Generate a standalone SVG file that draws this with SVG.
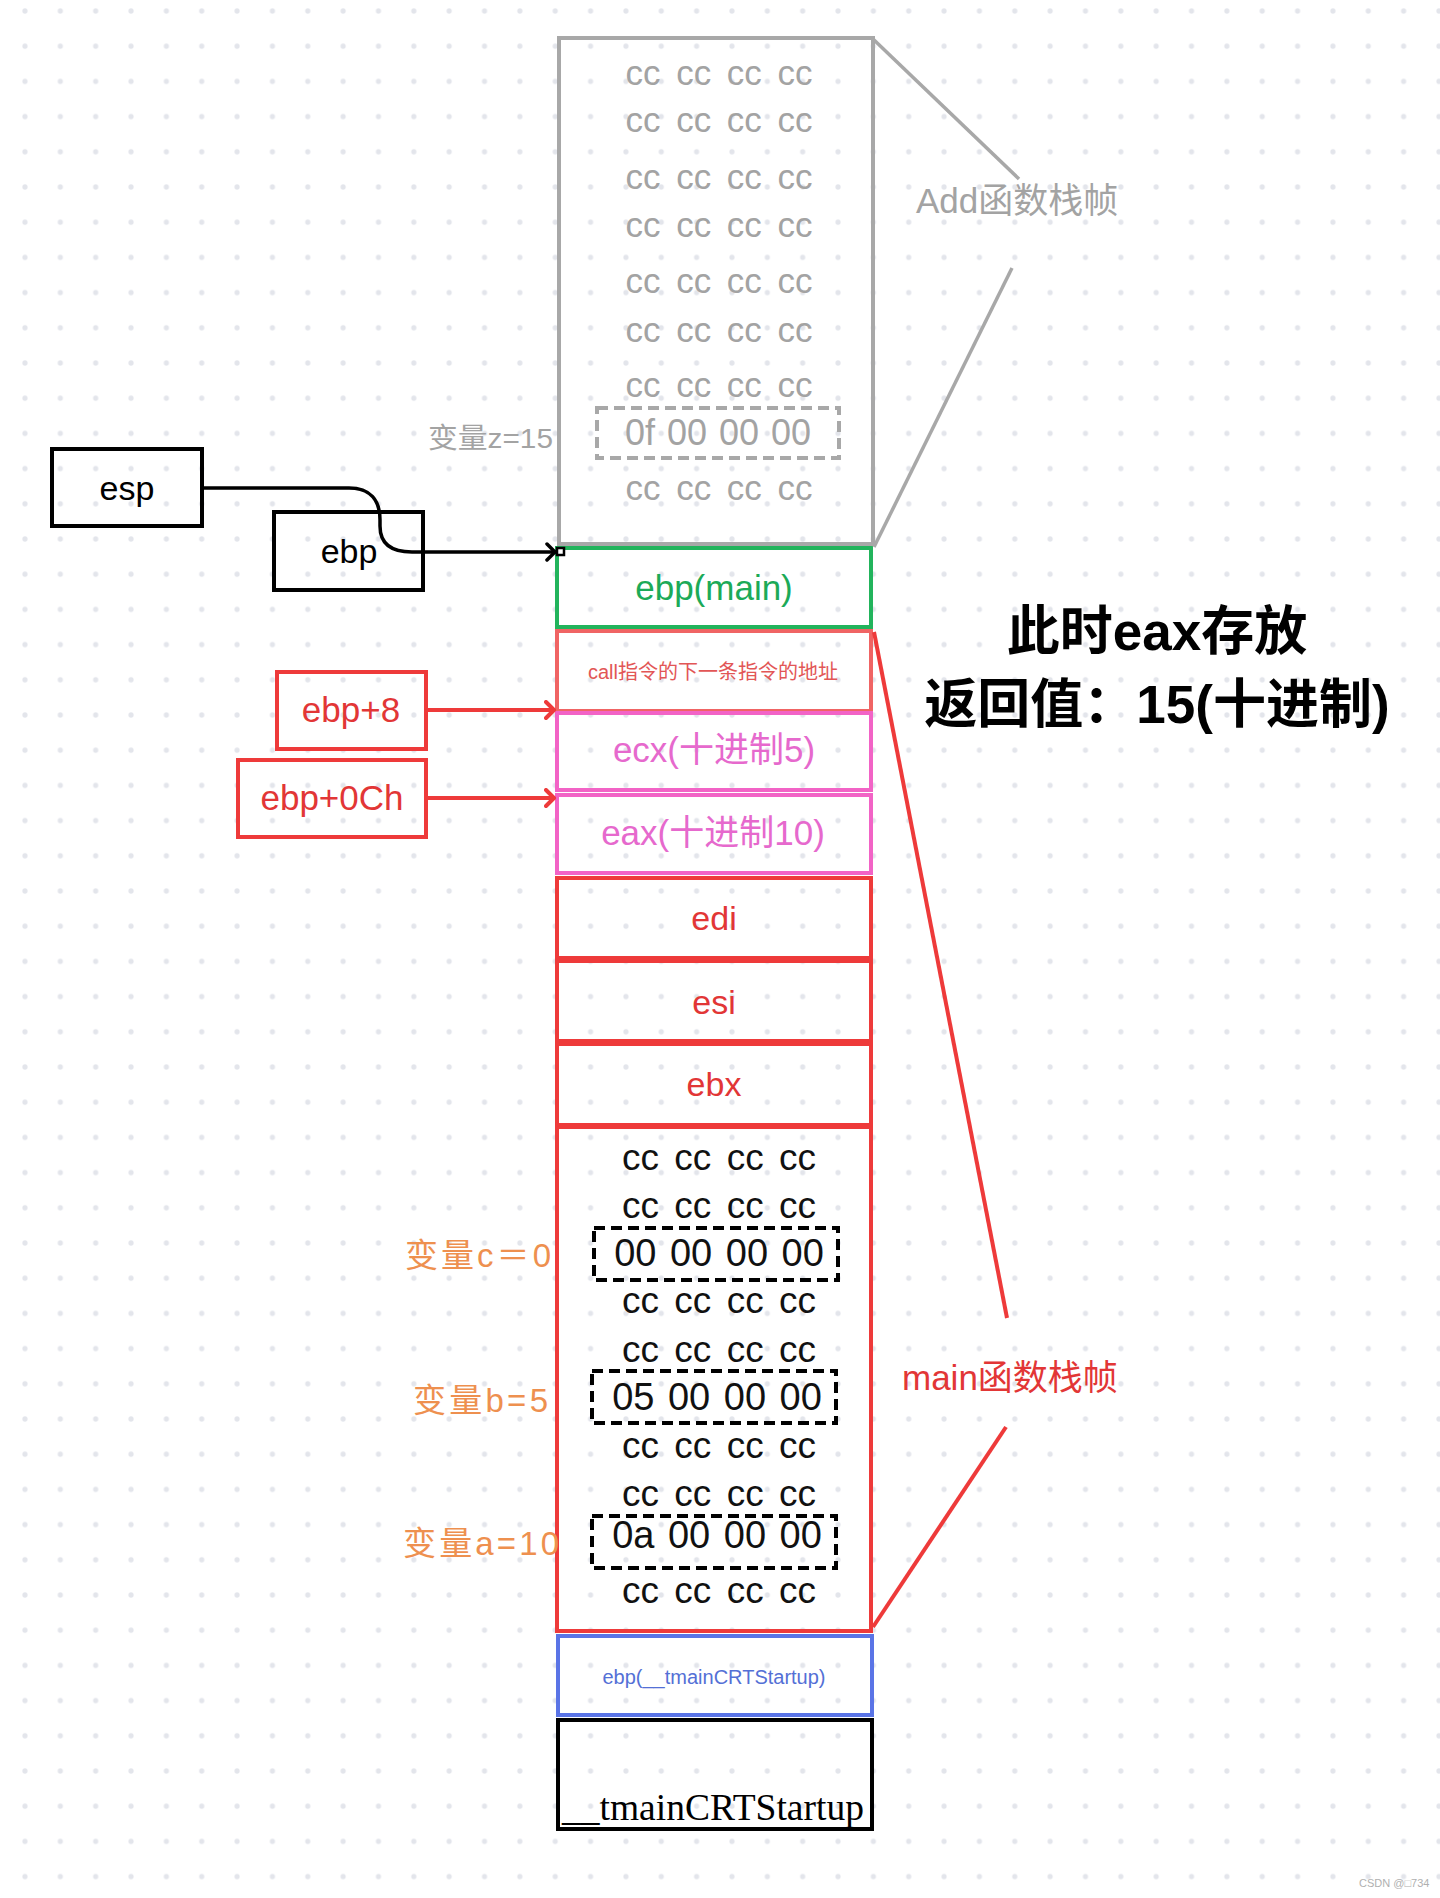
<svg xmlns="http://www.w3.org/2000/svg" width="1440" height="1898" viewBox="0 0 1440 1898">
<style>
  text { font-family: "Liberation Sans", "Noto Sans CJK SC", sans-serif; }
  text.serif { font-family: "Liberation Serif", "Noto Serif CJK SC", serif; }
  .box { fill: none; stroke-width: 4; }
  .gray { stroke: #a8a8a8; }
  .gtxt { fill: #a3a3a3; font-size: 35px; word-spacing: 6px; }
  .btxt { fill: #111; font-size: 37px; word-spacing: 5px; }
  .num { fill: #111; font-size: 38px; word-spacing: 3px; }
  .mid { text-anchor: middle; }
  .dash { fill: none; stroke-width: 4; stroke-dasharray: 11 6; }
  .red { stroke: #ee3a3a; }
  .redt { fill: #e23636; }
  .pink { stroke: #f263c6; }
  .pinkt { fill: #e669cd; }
  .orange { fill: #ee904f; font-size: 33px; }
  .big { fill: #000; font-size: 53px; font-weight: bold; }
</style>
<defs>
  <pattern id="dots" patternUnits="userSpaceOnUse" x="7.3" y="-6.6" width="35.35" height="35.2">
    <circle cx="17.675" cy="17.6" r="2.6" fill="#e3e5eb"/>
  </pattern>
  <marker id="arrBlack" markerUnits="userSpaceOnUse" markerWidth="14" markerHeight="22" refX="11" refY="10" orient="auto">
    <path d="M2,2 L10,10 L2,18" fill="none" stroke="#000" stroke-width="3.5" stroke-linecap="round" stroke-linejoin="round"/>
  </marker>
  <marker id="arrRed" markerUnits="userSpaceOnUse" markerWidth="14" markerHeight="22" refX="11" refY="10" orient="auto">
    <path d="M2,2 L10,10 L2,18" fill="none" stroke="#ee3a3a" stroke-width="4" stroke-linecap="round" stroke-linejoin="round"/>
  </marker>
</defs>

<rect x="0" y="0" width="1440" height="1898" fill="#fff"/>
<rect x="0" y="0" width="1440" height="1898" fill="url(#dots)"/>

<!-- Add stack frame -->
<g id="add-frame">
  <rect class="box gray" x="559" y="38" width="314" height="506"/>
  <text class="gtxt mid" x="719" y="85">cc cc cc cc</text>
  <text class="gtxt mid" x="719" y="132">cc cc cc cc</text>
  <text class="gtxt mid" x="719" y="189">cc cc cc cc</text>
  <text class="gtxt mid" x="719" y="237">cc cc cc cc</text>
  <text class="gtxt mid" x="719" y="293">cc cc cc cc</text>
  <text class="gtxt mid" x="719" y="342">cc cc cc cc</text>
  <text class="gtxt mid" x="719" y="397">cc cc cc cc</text>
  <text class="gtxt mid" x="719" y="500">cc cc cc cc</text>
</g>
<g id="var-z">
  <rect class="dash gray" x="597" y="408" width="242" height="50"/>
  <text class="mid" x="718" y="445" fill="#a3a3a3" font-size="36" style="word-spacing:2px">0f 00 00 00</text>
  <text x="553" y="448" text-anchor="end" fill="#a3a3a3" font-size="28" textLength="125" lengthAdjust="spacingAndGlyphs">变量z=15</text>
</g>
<g id="add-label">
  <text x="916" y="213" fill="#a3a3a3" font-size="35">Add函数栈帧</text>
</g>

<!-- pointers -->
<g id="esp">
  <rect class="box" stroke="#000" x="52" y="449" width="150" height="77"/>
  <text class="mid" x="127" y="500" font-size="34" fill="#000">esp</text>
</g>
<g id="ebp">
  <rect class="box" stroke="#000" x="274" y="512" width="149" height="78"/>
  <text class="mid" x="349" y="563" font-size="34" fill="#000">ebp</text>
</g>
<g id="ebp8">
  <rect class="box red" x="277" y="672" width="149" height="77"/>
  <text class="mid redt" x="351" y="722" font-size="35">ebp+8</text>
</g>
<g id="ebp0ch">
  <rect class="box red" x="238" y="760" width="188" height="77"/>
  <text class="mid redt" x="332" y="810" font-size="35">ebp+0Ch</text>
</g>

<!-- main stack frame -->
<g id="ebp-main">
  <rect class="box" stroke="#22b45c" x="557" y="548" width="314" height="79"/>
  <text class="mid" x="714" y="600" font-size="35" fill="#1caa58">ebp(main)</text>
</g>
<g id="ret-addr">
  <rect class="box" stroke="#f06464" x="557" y="631" width="314" height="80"/>
  <text class="mid" x="713" y="679" font-size="20" fill="#e25656">call指令的下一条指令的地址</text>
</g>
<g id="ecx">
  <rect class="box pink" x="557" y="713" width="314" height="77"/>
  <text class="mid pinkt" x="714" y="762" font-size="35">ecx(十进制5)</text>
</g>
<g id="eax">
  <rect class="box pink" x="557" y="795" width="314" height="78"/>
  <text class="mid pinkt" x="713" y="845" font-size="35">eax(十进制10)</text>
</g>
<g id="edi">
  <rect class="box red" x="557" y="878" width="314" height="80"/>
  <text class="mid redt" x="714" y="930" font-size="34">edi</text>
</g>
<g id="esi">
  <rect class="box red" x="557" y="961" width="314" height="80"/>
  <text class="mid redt" x="714" y="1014" font-size="34">esi</text>
</g>
<g id="ebx">
  <rect class="box red" x="557" y="1044" width="314" height="81"/>
  <text class="mid redt" x="714" y="1096" font-size="34">ebx</text>
</g>
<g id="main-locals">
  <rect class="box red" x="557" y="1127" width="314" height="504"/>
  <text class="btxt mid" x="719" y="1170">cc cc cc cc</text>
  <text class="btxt mid" x="719" y="1218">cc cc cc cc</text>
  <text class="btxt mid" x="719" y="1313">cc cc cc cc</text>
  <text class="btxt mid" x="719" y="1362">cc cc cc cc</text>
  <text class="btxt mid" x="719" y="1458">cc cc cc cc</text>
  <text class="btxt mid" x="719" y="1506">cc cc cc cc</text>
  <text class="btxt mid" x="719" y="1603">cc cc cc cc</text>
</g>
<g id="var-c">
  <rect class="dash" stroke="#000" x="594" y="1228" width="244" height="52"/>
  <text class="num mid" x="719" y="1266">00 00 00 00</text>
  <text class="orange" x="551" y="1267" text-anchor="end" textLength="146" lengthAdjust="spacing">变量c＝0</text>
</g>
<g id="var-b">
  <rect class="dash" stroke="#000" x="592" y="1371" width="244" height="52"/>
  <text class="num mid" x="717" y="1410">05 00 00 00</text>
  <text class="orange" x="548" y="1412" text-anchor="end" textLength="135" lengthAdjust="spacing">变量b=5</text>
</g>
<g id="var-a">
  <rect class="dash" stroke="#000" x="592" y="1516" width="244" height="52"/>
  <text class="num mid" x="717" y="1548">0a 00 00 00</text>
  <text class="orange" x="559" y="1555" text-anchor="end" textLength="156" lengthAdjust="spacing">变量a=10</text>
</g>
<g id="ebp-crt">
  <rect class="box" stroke="#5a74e6" x="558" y="1636" width="314" height="79"/>
  <text class="mid" x="714" y="1684" font-size="20" fill="#5470d6">ebp(__tmainCRTStartup)</text>
</g>
<g id="crt">
  <rect class="box" stroke="#000" x="558" y="1720" width="314" height="109"/>
  <text class="serif" x="562" y="1820" font-size="37.5" fill="#000">__tmainCRTStartup</text>
</g>

<g id="main-label">
  <text x="902" y="1390" font-size="35" fill="#e23636">main函数栈帧</text>
</g>
<g id="note">
  <text class="big mid" x="1157" y="650">此时eax存放</text>
  <text class="big mid" x="1157" y="723">返回值：15(十进制)</text>
</g>
<g id="watermark">
  <text x="1359" y="1887" font-size="11" fill="#b0b0b0">CSDN @□734</text>
</g>

<!-- connectors -->
<g id="connectors" fill="none">
  <line x1="873" y1="39" x2="1019" y2="179" stroke="#a8a8a8" stroke-width="3.5"/>
  <line x1="1012" y1="268" x2="874" y2="547" stroke="#a8a8a8" stroke-width="3.5"/>
  <line x1="874" y1="632" x2="1007" y2="1318" stroke="#ee3a3a" stroke-width="4"/>
  <line x1="1006" y1="1427" x2="873" y2="1627" stroke="#ee3a3a" stroke-width="4"/>
  <path d="M202,488 H349 C370,488 380,500 380,520 V526 C380,544 392,552 412,552 H556" stroke="#000" stroke-width="3.5" marker-end="url(#arrBlack)"/>
  <rect x="557" y="548" width="7" height="7" fill="#fff" stroke="#000" stroke-width="2.5"/>
  <line x1="426" y1="710" x2="555" y2="710" stroke="#ee3a3a" stroke-width="4" marker-end="url(#arrRed)"/>
  <line x1="426" y1="798" x2="555" y2="798" stroke="#ee3a3a" stroke-width="4" marker-end="url(#arrRed)"/>
</g>
</svg>
